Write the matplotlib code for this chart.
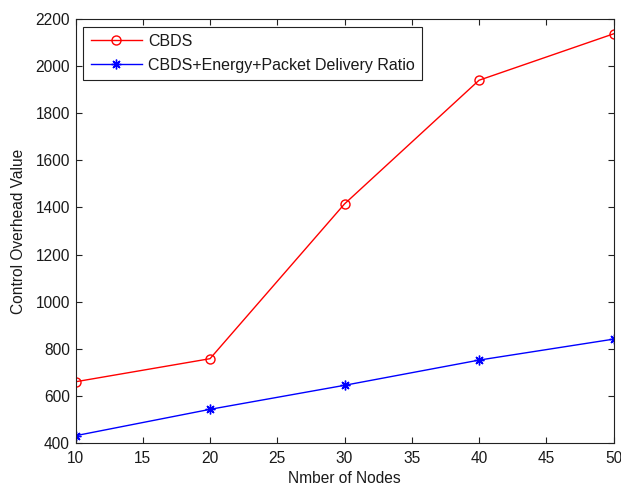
import matplotlib
matplotlib.use("Agg")
import matplotlib.pyplot as plt

# number of nodes in the network
nodes = [10, 20, 30, 40, 50]

# control overhead for each scheme
cbds = [660, 758, 1415, 1940, 2137]
cbds_energy_pdr = [431, 543, 645, 752, 841]

plt.rcParams['font.family'] = ['Liberation Sans', 'DejaVu Sans']
plt.rcParams['font.size'] = 11.2
plt.rcParams['text.color'] = '#1a1a1a'

fig = plt.figure(figsize=(6.21, 4.87), dpi=100)
ax = fig.add_axes([0.1216, 0.0903, 0.8664, 0.8707])

ax.plot(nodes, cbds, color='red', linewidth=1, marker='o', markersize=6.5,
        markerfacecolor='none', markeredgecolor='red', label='CBDS')
# MATLAB-style asterisk: plus and cross combined
ax.plot(nodes, cbds_energy_pdr, color='blue', linewidth=1, marker=(8, 2, 0),
        markersize=7, markeredgewidth=1, label='CBDS+Energy+Packet Delivery Ratio')

ax.set_xlim(10, 50)
ax.set_ylim(400, 2200)
ax.set_xticks(range(10, 51, 5))
ax.set_yticks(range(400, 2201, 200))
ax.tick_params(direction='in', top=True, right=True, length=4, width=0.8,
               color='#222222', labelcolor='#1a1a1a', labelsize=11.2)
ax.tick_params(axis='x', pad=6)
ax.tick_params(axis='y', pad=4)
for s in ax.spines.values():
    s.set_linewidth(0.8)
    s.set_color('#222222')

ax.set_xlabel('Nmber of Nodes', labelpad=3, color='#1a1a1a')
ax.set_ylabel('Control Overhead Value', labelpad=7, color='#1a1a1a')

leg = ax.legend(loc='upper left', bbox_to_anchor=(0.0145, 0.982), borderaxespad=0,
                fancybox=False, framealpha=1, edgecolor='#222222', borderpad=0.45,
                handlelength=3.2, handletextpad=0.4, labelspacing=0.57, fontsize=11.5)
leg.get_frame().set_linewidth(0.8)

fig.savefig('out.png', dpi=100)
